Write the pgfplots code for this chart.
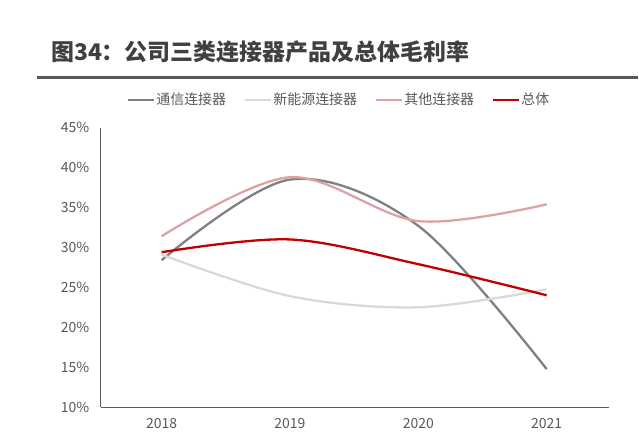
\documentclass[border=0pt]{standalone}
\usepackage{fontspec}
\setmainfont{Noto Sans CJK SC}
\usepackage{pgfplots}
\pgfplotsset{compat=1.18}

\definecolor{titlegray}{HTML}{404040}
\definecolor{rulegray}{HTML}{595959}
\definecolor{tickgray}{HTML}{595959}
\definecolor{axisgray}{HTML}{595959}
\definecolor{commgray}{HTML}{808080}
\definecolor{nevgray}{HTML}{D9D9D9}
\definecolor{otherpink}{HTML}{DBA3A3}
\definecolor{totalred}{HTML}{C00000}

\begin{document}
\begin{tikzpicture}[x=1pt,y=1pt]
  % page frame, 639 x 447
  \path (0,0) rectangle (639,-447);

  % title and rule
  \node[anchor=west, inner sep=0pt, text=titlegray,
        font=\fontsize{23}{26}\selectfont\bfseries] at (51,-52)
        {图34：公司三类连接器产品及总体毛利率};
  \draw[rulegray, line width=3pt] (37,-78) -- (639,-78);

  \begin{axis}[
    at={(101pt,-408pt)}, anchor=south west,
    scale only axis, width=509pt, height=280pt,
    xmin=2017.526, xmax=2021.482,
    ymin=10, ymax=45,
    xtick={2018,2019,2020,2021},
    xticklabels={2018,2019,2020,2021},
    ytick={10,15,20,25,30,35,40,45},
    yticklabels={10\%,15\%,20\%,25\%,30\%,35\%,40\%,45\%},
    major tick length=0pt,
    axis x line*=bottom, axis y line*=left,
    axis line style={draw=axisgray, line width=0.9pt},
    tick label style={font=\fontsize{14}{16}\selectfont, text=tickgray},
    xticklabel style={yshift=-8pt},
    yticklabel style={xshift=-8pt},
    /pgf/number format/assume math mode=true,
    legend columns=4,
    legend style={at={(0.4686,1.1)}, anchor=center, draw=none, fill=none,
      font=\fontsize{14}{16}\selectfont, text=tickgray,
      nodes={inner xsep=1pt, inner ysep=1pt},
      /tikz/every even column/.append style={column sep=17pt}},
    legend image code/.code={\draw[#1] (0pt,0pt) -- (26pt,0pt);},
    every axis plot/.append style={smooth, tension=0.55, line width=2.3pt, no marks},
  ]
    \addplot[commgray] coordinates {(2018,28.4) (2019,38.5) (2020,32.7) (2021,14.75)};
    \addlegendentry{通信连接器}
    \addplot[nevgray] coordinates {(2018,29.1) (2019,23.9) (2020,22.5) (2021,24.75)};
    \addlegendentry{新能源连接器}
    \addplot[otherpink] coordinates {(2018,31.4) (2019,38.8) (2020,33.3) (2021,35.4)};
    \addlegendentry{其他连接器}
    \addplot[totalred] coordinates {(2018,29.4) (2019,31.0) (2020,27.9) (2021,24.0)};
    \addlegendentry{总体}
  \end{axis}
\end{tikzpicture}
\end{document}
